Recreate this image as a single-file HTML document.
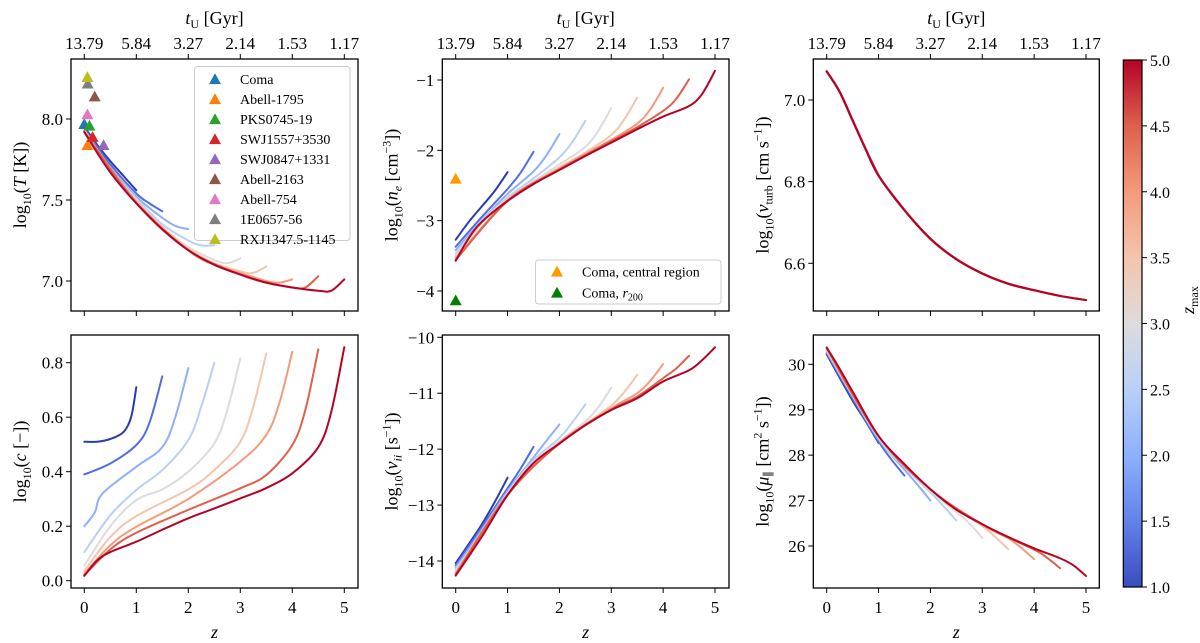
<!DOCTYPE html>
<html><head><meta charset="utf-8">
<style>
html,body{margin:0;padding:0;background:#fff;}
svg{display:block;font-family:"Liberation Serif","DejaVu Serif",serif;}
</style></head>
<body>
<svg id="fig" width="1200" height="643" viewBox="0 0 1200 643" xmlns="http://www.w3.org/2000/svg">
<defs>
<linearGradient id="cw" x1="0" y1="1" x2="0" y2="0">
<stop offset="0" stop-color="#3b4cc0"/><stop offset="0.125" stop-color="#6282ea"/><stop offset="0.25" stop-color="#8db0fe"/><stop offset="0.375" stop-color="#b8d0f9"/><stop offset="0.5" stop-color="#dddcdc"/><stop offset="0.625" stop-color="#f5c4ac"/><stop offset="0.75" stop-color="#f49a7b"/><stop offset="0.875" stop-color="#de604d"/><stop offset="1" stop-color="#b40426"/>
</linearGradient>
</defs>
<g id="layer"></g>
</svg>
<script>
// ---- data ----
const zmaxValues = [1.0,1.5,2.0,2.5,3.0,3.5,4.0,4.5,5.0];
const lineColors = ["#2a3bb0","#4f6fe0","#8db0fe","#b8d0f9","#dddcdc","#f5c4ac","#f49a7b","#de604d","#b40426"];
const topTickZ = [0,1,2,3,4,5];
const topTickLabels = ["13.79","5.84","3.27","2.14","1.53","1.17"];
const bottomTickZ = [0,1,2,3,4,5];

const tempCurves = [
 [[0,7.95],[0.25,7.84],[0.5,7.74],[0.75,7.65],[1,7.56]],
 [[0,7.94],[0.5,7.72],[1,7.54],[1.25,7.48],[1.5,7.43]],
 [[0,7.93],[0.5,7.70],[1,7.52],[1.5,7.39],[1.75,7.34],[2,7.32]],
 [[0,7.93],[0.5,7.69],[1,7.51],[1.5,7.35],[2,7.25],[2.25,7.22],[2.5,7.22]],
 [[0,7.93],[0.5,7.68],[1,7.50],[1.5,7.33],[2,7.21],[2.5,7.13],[2.75,7.11],[3,7.14]],
 [[0,7.92],[0.5,7.68],[1,7.49],[1.5,7.33],[2,7.20],[2.5,7.11],[3,7.06],[3.25,7.05],[3.5,7.09]],
 [[0,7.92],[1,7.49],[2,7.19],[2.5,7.10],[3,7.05],[3.5,7.00],[3.75,6.99],[4,7.01]],
 [[0,7.92],[1,7.48],[2,7.19],[3,7.04],[3.5,6.99],[4,6.96],[4.25,6.96],[4.5,7.03]],
 [[0,7.92],[0.25,7.79],[0.5,7.67],[0.75,7.57],[1,7.48],[1.5,7.32],[2,7.19],[2.5,7.10],[3,7.04],[3.5,6.99],[4,6.96],[4.5,6.94],[4.75,6.94],[5,7.01]]
];
const clusterNames = ["Coma","Abell-1795","PKS0745-19","SWJ1557+3530","SWJ0847+1331","Abell-2163","Abell-754","1E0657-56","RXJ1347.5-1145"];
const clusterColors = ["#1f77b4","#ff7f0e","#2ca02c","#d62728","#9467bd","#8c564b","#e377c2","#7f7f7f","#bcbd22"];
const clusterZ = [0.0,0.06,0.1,0.16,0.37,0.2,0.06,0.065,0.06];
const clusterT = [7.97,7.84,7.96,7.89,7.84,8.14,8.03,8.22,8.26];

const densCurves = [
 [[0,-3.27],[0.25,-3.02],[0.5,-2.8],[0.75,-2.58],[1,-2.31]],
 [[0,-3.37],[0.5,-2.95],[1,-2.55],[1.25,-2.32],[1.5,-2.02]],
 [[0,-3.42],[0.5,-3.0],[1,-2.62],[1.5,-2.3],[1.75,-2.07],[2,-1.77]],
 [[0,-3.47],[0.5,-3.01],[1,-2.67],[1.5,-2.4],[2,-2.1],[2.25,-1.88],[2.5,-1.58]],
 [[0,-3.50],[0.5,-3.02],[1,-2.69],[1.5,-2.44],[2,-2.2],[2.5,-1.95],[2.75,-1.72],[3,-1.40]],
 [[0,-3.52],[0.5,-3.03],[1,-2.70],[1.5,-2.46],[2,-2.24],[2.5,-2.03],[3,-1.78],[3.25,-1.56],[3.5,-1.25]],
 [[0,-3.54],[1,-2.71],[2,-2.26],[3,-1.85],[3.5,-1.62],[3.75,-1.42],[4,-1.11]],
 [[0,-3.56],[1,-2.72],[2,-2.27],[3,-1.87],[3.5,-1.67],[4,-1.44],[4.25,-1.27],[4.5,-0.99]],
 [[0,-3.57],[0.25,-3.25],[0.5,-3.02],[1,-2.72],[1.5,-2.48],[2,-2.28],[2.5,-2.08],[3,-1.89],[3.5,-1.70],[4,-1.52],[4.5,-1.37],[4.75,-1.20],[5,-0.87]]
];
const comaDensNames = ["Coma, central region","Coma, r200"];
const comaDensColors = ["#ff9900","#007f00"];
const comaDensZ = [0,0];
const comaDensV = [-2.40,-4.13];

const turbZ = [0,0.25,0.5,0.75,1,1.5,2,2.5,3,3.5,4,4.5,5];
const turbV = [7.07,7.02,6.95,6.88,6.815,6.73,6.66,6.61,6.575,6.55,6.534,6.52,6.51];

const concCurves = [
 [[0,0.51],[0.25,0.51],[0.5,0.52],[0.75,0.545],[0.9,0.6],[1,0.71]],
 [[0,0.39],[0.5,0.43],[1,0.498],[1.25,0.578],[1.5,0.75]],
 [[0,0.20],[0.2,0.25],[0.35,0.32],[1,0.418],[1.5,0.49],[1.75,0.60],[2,0.78]],
 [[0,0.105],[0.5,0.24],[1,0.333],[1.5,0.406],[2,0.516],[2.25,0.639],[2.5,0.80]],
 [[0,0.055],[0.5,0.20],[1,0.296],[1.5,0.335],[2,0.40],[2.5,0.504],[2.75,0.626],[3,0.816]],
 [[0,0.035],[0.5,0.16],[1,0.237],[2,0.335],[2.5,0.406],[3,0.51],[3.25,0.639],[3.5,0.834]],
 [[0,0.025],[0.5,0.13],[1,0.198],[2,0.30],[3,0.437],[3.5,0.535],[3.75,0.651],[4,0.84]],
 [[0,0.02],[0.5,0.115],[1,0.176],[2,0.26],[3,0.339],[3.5,0.388],[4,0.498],[4.25,0.626],[4.5,0.849]],
 [[0,0.018],[0.25,0.075],[0.5,0.105],[1,0.143],[1.5,0.187],[2,0.229],[2.5,0.265],[3,0.302],[3.5,0.34],[4,0.394],[4.5,0.49],[4.75,0.62],[5,0.857]]
];

const collCurves = [
 [[0,-14.04],[0.25,-13.7],[0.5,-13.35],[0.75,-12.95],[1,-12.51]],
 [[0,-14.08],[0.5,-13.4],[1,-12.7],[1.25,-12.35],[1.5,-11.96]],
 [[0,-14.12],[0.5,-13.45],[1,-12.75],[1.5,-12.15],[1.75,-11.85],[2,-11.56]],
 [[0,-14.15],[0.5,-13.5],[1,-12.78],[1.5,-12.2],[2,-11.8],[2.25,-11.52],[2.5,-11.2]],
 [[0,-14.18],[0.5,-13.53],[1,-12.8],[1.5,-12.23],[2,-11.86],[2.5,-11.5],[2.75,-11.25],[3,-10.9]],
 [[0,-14.2],[1,-12.81],[2,-11.88],[2.5,-11.55],[3,-11.22],[3.25,-10.98],[3.5,-10.67]],
 [[0,-14.22],[1,-12.82],[2,-11.89],[3,-11.27],[3.5,-11.0],[3.75,-10.78],[4,-10.48]],
 [[0,-14.24],[1,-12.82],[2,-11.9],[3,-11.29],[3.5,-11.06],[4,-10.73],[4.25,-10.56],[4.5,-10.33]],
 [[0,-14.26],[0.5,-13.57],[1,-12.82],[1.5,-12.25],[2,-11.9],[2.5,-11.57],[3,-11.3],[3.5,-11.09],[4,-10.79],[4.5,-10.59],[4.75,-10.41],[5,-10.18]]
];

const viscCurves = [
 [[0,30.22],[0.5,29.2],[0.75,28.75],[1,28.27]],
 [[0,30.25],[0.5,29.25],[1,28.3],[1.25,27.9],[1.5,27.55]],
 [[0,30.28],[0.5,29.3],[1,28.35],[1.5,27.68],[1.75,27.35],[2,27.0]],
 [[0,30.3],[1,28.38],[1.5,27.74],[2,27.18],[2.25,26.88],[2.5,26.56]],
 [[0,30.32],[1,28.4],[2,27.22],[2.5,26.75],[2.75,26.5],[3,26.18]],
 [[0,30.33],[1,28.41],[2,27.24],[3,26.44],[3.25,26.2],[3.5,25.93]],
 [[0,30.35],[1,28.42],[2,27.25],[3,26.47],[3.5,26.17],[3.75,25.96],[4,25.71]],
 [[0,30.36],[1,28.42],[2,27.25],[3,26.48],[4,25.92],[4.25,25.74],[4.5,25.51]],
 [[0,30.37],[0.25,29.9],[0.5,29.4],[1,28.42],[1.5,27.8],[2,27.25],[2.5,26.8],[3,26.48],[3.5,26.2],[4,25.95],[4.5,25.73],[4.75,25.58],[5,25.34]]
];

const tempTicks = [7.0,7.5,8.0];
const densTicks = [-1,-2,-3,-4];
const turbTicks = [6.6,6.8,7.0];
const concTicks = [0.0,0.2,0.4,0.6,0.8];
const collTicks = [-10,-11,-12,-13,-14];
const viscTicks = [26,27,28,29,30];
const cbarTicks = [1.0,1.5,2.0,2.5,3.0,3.5,4.0,4.5,5.0];

// ---- drawing ----
const NS="http://www.w3.org/2000/svg";
const layer=document.getElementById('layer');
function mk(tag,attrs,parent){const e=document.createElementNS(NS,tag);for(const k in attrs)e.setAttribute(k,attrs[k]);(parent||layer).appendChild(e);return e;}
function lin(d0,d1,r0,r1){return v=>r0+(v-d0)*(r1-r0)/(d1-d0);}
function smooth(pts){
 if(pts.length<2)return '';
 let d='M'+pts[0][0].toFixed(2)+','+pts[0][1].toFixed(2);
 for(let i=0;i<pts.length-1;i++){
  const p0=pts[Math.max(0,i-1)],p1=pts[i],p2=pts[i+1],p3=pts[Math.min(pts.length-1,i+2)];
  const c1=[p1[0]+(p2[0]-p0[0])/6,p1[1]+(p2[1]-p0[1])/6];
  const c2=[p2[0]-(p3[0]-p1[0])/6,p2[1]-(p3[1]-p1[1])/6];
  d+='C'+c1[0].toFixed(2)+','+c1[1].toFixed(2)+' '+c2[0].toFixed(2)+','+c2[1].toFixed(2)+' '+p2[0].toFixed(2)+','+p2[1].toFixed(2);
 }
 return d;
}
const cols=[{x0:71,x1:358,z0:84.3,z5:344.3},{x0:442.3,x1:729,z0:455.7,z5:715},{x0:813.3,x1:1099.3,z0:826.7,z5:1086}];
const rows=[{y0:59,y1:311},{y0:335,y1:588}];

function panel(name,c,r,yd0,yd1,yr0,yr1,ticks,fmt,ylabelHTML,top,bottom){
 const C=cols[c],R=rows[r];
 const g=mk('g',{});
 
 
 const X=lin(0,5,C.z0,C.z5), Y=lin(yd0,yd1,yr0,yr1);
 const clipId='clip-'+name;
 const cp=mk('clipPath',{id:clipId},g);mk('rect',{x:C.x0,y:R.y0,width:C.x1-C.x0,height:R.y1-R.y0},cp);
 const plot=mk('g',{'clip-path':'url(#'+clipId+')'},g);
 const tg=mk('g',{},g);
 
 
 bottomTickZ.forEach(z=>{mk('line',{x1:X(z),x2:X(z),y1:R.y1,y2:R.y1+5,stroke:'#000','stroke-width':1},tg);});
 if(bottom){bottomTickZ.forEach(z=>{const t=mk('text',{x:X(z),y:R.y1+25,'text-anchor':'middle','font-size':17},tg);t.textContent=String(z);});
  const zl=mk('text',{x:(C.x0+C.x1)/2,y:R.y1+50,'text-anchor':'middle','font-size':18,'font-style':'italic'},g);zl.textContent='z';
  }
 if(top){topTickZ.forEach((z,i)=>{mk('line',{x1:X(z),x2:X(z),y1:R.y0,y2:R.y0-5,stroke:'#000','stroke-width':1},tg);
   const t=mk('text',{x:X(z),y:R.y0-10,'text-anchor':'middle','font-size':17},tg);t.textContent=topTickLabels[i];});
  const tt=mk('text',{x:(C.x0+C.x1)/2,y:24,'text-anchor':'middle','font-size':18},g);
  tt.innerHTML='<tspan font-style="italic">t</tspan><tspan font-size="12" dy="4">U</tspan><tspan dy="-4"> [Gyr]</tspan>';
  }
 ticks.forEach(v=>{mk('line',{x1:C.x0,x2:C.x0-5,y1:Y(v),y2:Y(v),stroke:'#000','stroke-width':1},tg);
  const t=mk('text',{x:C.x0-8,y:Y(v)+6,'text-anchor':'end','font-size':17},tg);t.textContent=fmt(v);});
 const yl=mk('text',{transform:'translate('+(C.x0-45)+','+((R.y0+R.y1)/2)+') rotate(-90)','text-anchor':'middle','font-size':18},g);
 yl.innerHTML=ylabelHTML;
 
 return {g,plot,X,Y,C,R};
}
function frame(p){const f=mk('rect',{x:p.C.x0,y:p.R.y0,width:p.C.x1-p.C.x0,height:p.R.y1-p.R.y0,fill:'none',stroke:'#000','stroke-width':1.3},p.g);
 }
function drawCurves(p,curves,prefix){
 curves.forEach((cv,i)=>{const pts=cv.map(q=>[p.X(q[0]),p.Y(q[1])]);
  const e=mk('path',{d:smooth(pts),fill:'none',stroke:lineColors[i],'stroke-width':2,'stroke-linejoin':'round','stroke-linecap':'round'},p.plot);
  
  });
}
function tri(parent,cx,cy,col,s){return mk('path',{d:'M'+(cx-s)+','+(cy+s*0.85)+'L'+(cx+s)+','+(cy+s*0.85)+'L'+cx+','+(cy-s*0.95)+'Z',fill:col},parent);}
const f1=v=>v.toFixed(1), f0=v=>v.toFixed(0).replace('-','\u2212');
const LOG='log<tspan font-size="12" dy="5">10</tspan><tspan dy="-5">(</tspan>';

let p=panel('temperature-panel',0,0,8.0,7.0,119,281,tempTicks,f1,LOG+'<tspan font-style="italic">T</tspan> [K])',true,false);
drawCurves(p,tempCurves,'temperature');
clusterNames.forEach((n,i)=>{const m=tri(p.g,p.X(clusterZ[i]),p.Y(clusterT[i]),clusterColors[i],6);
 
 });
frame(p);
let lg=mk('g',{},p.g);


mk('rect',{x:194.5,y:66.5,width:155.5,height:174,rx:3,fill:'#fff','fill-opacity':0.85,stroke:'#ccc','stroke-width':1},lg);
clusterNames.forEach((n,i)=>{const yy=79+i*20;
 const e=mk('g',{},lg);
 
 
 tri(e,215,yy,clusterColors[i],6);
 const t=mk('text',{x:240,y:yy+5,'font-size':14},e);t.textContent=n;});

p=panel('density-panel',1,0,-1,-4,80,291,densTicks,f0,LOG+'<tspan font-style="italic">n</tspan><tspan font-size="12" font-style="italic" dy="4">e</tspan><tspan dy="-4"> [cm</tspan><tspan font-size="12" dy="-7">\u22123</tspan><tspan dy="7">])</tspan>',true,false);
drawCurves(p,densCurves,'density');
comaDensNames.forEach((n,i)=>{const m=tri(p.g,p.X(comaDensZ[i]),p.Y(comaDensV[i]),comaDensColors[i],6);
 
 });
frame(p);
lg=mk('g',{},p.g);


mk('rect',{x:535.5,y:260,width:185.5,height:44,rx:3,fill:'#fff','fill-opacity':0.85,stroke:'#ccc','stroke-width':1},lg);
[271.5,292.5].forEach((yy,i)=>{const e=mk('g',{},lg);
 
 
 tri(e,557,yy,comaDensColors[i],6);
 const t=mk('text',{x:582,y:yy+5,'font-size':14},e);
 if(i===0)t.textContent=comaDensNames[0];else t.innerHTML='Coma, <tspan font-style="italic">r</tspan><tspan font-size="10" dy="3">200</tspan>';});

p=panel('turbulence-panel',2,0,7.0,6.6,100,263.3,turbTicks,f1,LOG+'<tspan font-style="italic">v</tspan><tspan font-size="12" dy="4">turb</tspan><tspan dy="-4"> [cm s</tspan><tspan font-size="12" dy="-7">\u22121</tspan><tspan dy="7">])</tspan>',true,false);
zmaxValues.forEach((zm,i)=>{const pts=[];turbZ.forEach((z,k)=>{if(z<=zm+1e-9)pts.push([p.X(z),p.Y(turbV[k])]);});
 const e=mk('path',{d:smooth(pts),fill:'none',stroke:lineColors[i],'stroke-width':2.2,'stroke-linecap':'round'},p.plot);
 
 });
frame(p);

p=panel('concentration-panel',0,1,0.8,0.0,362.7,580.7,concTicks,f1,LOG+'<tspan font-style="italic">c</tspan> [\u2212])',false,true);
drawCurves(p,concCurves,'concentration');frame(p);

p=panel('collision-panel',1,1,-10,-14,337.3,561,collTicks,f0,LOG+'<tspan font-style="italic">\u03bd</tspan><tspan font-size="12" font-style="italic" dy="4">ii</tspan><tspan dy="-4"> [s</tspan><tspan font-size="12" dy="-7">\u22121</tspan><tspan dy="7">])</tspan>',false,true);
drawCurves(p,collCurves,'collision');frame(p);

p=panel('viscosity-panel',2,1,30,26,364.3,546,viscTicks,f0,LOG+'<tspan font-style="italic">\u03bc</tspan><tspan font-size="12" dy="4">\u2225</tspan><tspan dy="-4"> [cm</tspan><tspan font-size="12" dy="-7">2</tspan><tspan dy="7"> s</tspan><tspan font-size="12" dy="-7">\u22121</tspan><tspan dy="7">])</tspan>',false,true);
drawCurves(p,viscCurves,'viscosity');frame(p);

const cb=mk('g',{});


mk('rect',{x:1123.3,y:60,width:18.7,height:527,fill:'url(#cw)',stroke:'#000','stroke-width':1.2},cb);
const CY=lin(1,5,587,60);
cbarTicks.forEach(v=>{mk('line',{x1:1142,x2:1147,y1:CY(v),y2:CY(v),stroke:'#000','stroke-width':1},cb);
 const t=mk('text',{x:1150,y:CY(v)+6,'font-size':16},cb);t.textContent=v.toFixed(1);});
const cl=mk('text',{transform:'translate(1194,300) rotate(-90)','text-anchor':'middle','font-size':18},cb);
cl.innerHTML='<tspan font-style="italic">z</tspan><tspan font-size="12" dy="4">max</tspan>';


</script>
</body></html>
